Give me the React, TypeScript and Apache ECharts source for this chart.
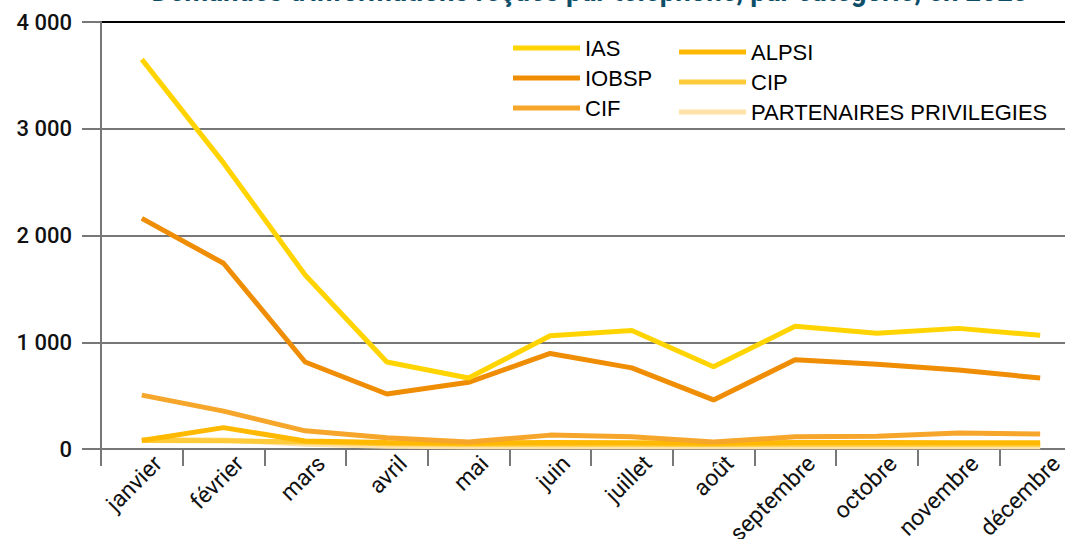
import React, { useEffect, useRef } from "react";
import * as echarts from "echarts";

const months = ["janvier", "février", "mars", "avril", "mai", "juin", "juillet", "août", "septembre", "octobre", "novembre", "décembre"];
const ias = [3650, 2680, 1630, 815, 665, 1060, 1110, 770, 1150, 1085, 1130, 1065];
const iobsp = [2160, 1740, 815, 515, 625, 895, 760, 460, 835, 795, 740, 665];
const cif = [505, 355, 170, 105, 65, 130, 115, 65, 115, 120, 150, 140];
const alpsi = [80, 200, 75, 62, 55, 60, 58, 55, 60, 60, 58, 58];
const cip = [80, 78, 65, 50, 45, 45, 45, 42, 45, 45, 45, 45];
const partenaires = [90, 85, 45, 25, 22, 22, 22, 20, 22, 22, 22, 22];
const yTicks = [0, 1000, 2000, 3000, 4000];
const title = "Demandes d'informations reçues par téléphone, par catégorie, en 2023";

const seriesDefs = [
  { name: "PARTENAIRES PRIVILEGIES", data: partenaires, color: "#FFE2A8" },
  { name: "CIP", data: cip, color: "#FFCB3A" },
  { name: "ALPSI", data: alpsi, color: "#FFB900" },
  { name: "CIF", data: cif, color: "#F5A62B" },
  { name: "IOBSP", data: iobsp, color: "#EF8D05" },
  { name: "IAS", data: ias, color: "#FFD400" },
];

export default function App() {
  const ref = useRef<HTMLDivElement>(null);
  useEffect(() => {
    const chart = echarts.init(ref.current!, null, { renderer: "svg" });
    const legendText = { fontFamily: "Liberation Sans", fontSize: 22, color: "#000", lineHeight: 22 };
    chart.setOption({
      animation: false,
      graphic: [
        {
          type: "text",
          x: 590,
          y: 6,
          scaleX: 0.92,
          style: {
            text: title,
            textAlign: "center",
            textVerticalAlign: "bottom",
            fontFamily: "Roboto",
            fontWeight: "bold",
            fontSize: 30,
            fill: "#0E4E69",
          },
        },
      ],
      grid: { left: 101, top: 22, width: 980, height: 427, outerBoundsMode: "none", containLabel: false },
      legend: [
        {
          data: ["IAS", "IOBSP", "CIF"],
          orient: "vertical",
          left: 508,
          top: 32,
          itemGap: 8,
          itemWidth: 67,
          itemHeight: 5,
          icon: "rect",
          textStyle: legendText,
        },
        {
          data: ["ALPSI", "CIP", "PARTENAIRES PRIVILEGIES"],
          orient: "vertical",
          left: 674,
          top: 36,
          itemGap: 8,
          itemWidth: 67,
          itemHeight: 5,
          icon: "rect",
          textStyle: legendText,
        },
      ],
      xAxis: {
        type: "category",
        data: months,
        boundaryGap: true,
        axisLine: { lineStyle: { color: "#777", width: 2 } },
        axisTick: { show: true, length: 17, lineStyle: { color: "#777", width: 2 } },
        axisLabel: {
          rotate: 45,
          margin: 27,
          padding: [0, -23, 0, 0],
          fontFamily: "Roboto",
          fontSize: 23,
          color: "#111",
          interval: 0,
        },
      },
      yAxis: {
        type: "value",
        min: 0,
        max: 4000,
        interval: 1000,
        axisLine: { show: true, lineStyle: { color: "#777", width: 2 } },
        axisTick: { show: true, length: 19, lineStyle: { color: "#777", width: 2 } },
        splitLine: { show: true, lineStyle: { color: ["#777", "#777", "#777", "#777", "#000"], width: 2 } },
        axisLabel: {
          margin: 29,
          fontFamily: "Roboto",
          fontWeight: 500,
          fontSize: 22,
          color: "#111",
          formatter: (v: number) => (yTicks.includes(v) ? String(v).replace(/\B(?=(\d{3})+(?!\d))/g, " ") : ""),
        },
      },
      series: seriesDefs.map((s) => ({
        name: s.name,
        type: "line",
        data: s.data,
        symbol: "none",
        color: s.color,
        lineStyle: { width: 5, color: s.color },
        itemStyle: { color: s.color },
      })),
    });
    return () => chart.dispose();
  }, []);
  return (
    <div
      ref={ref}
      style={{ position: "fixed", left: 0, top: 0, width: 1065, height: 539, background: "#fff" }}
    />
  );
}
